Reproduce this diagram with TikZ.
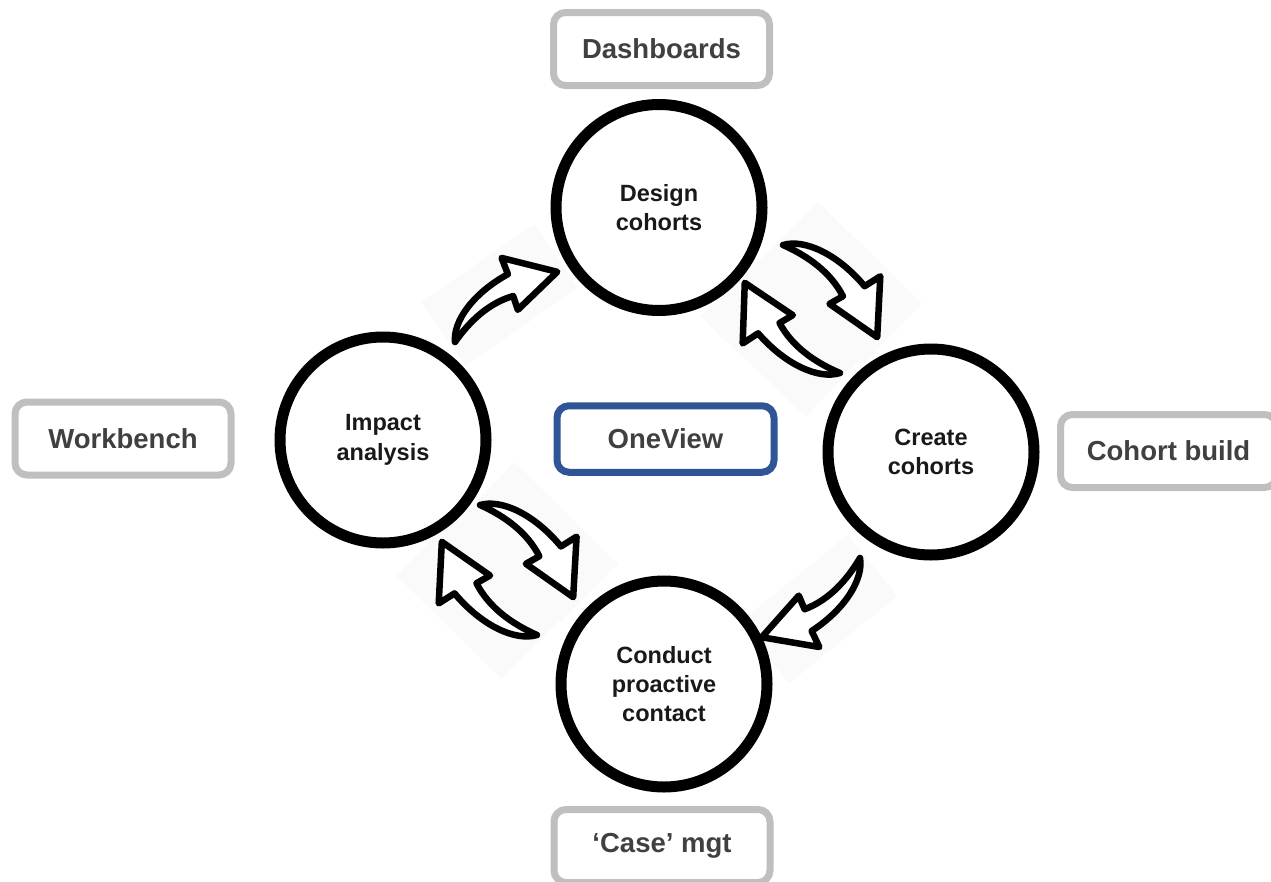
\documentclass[tikz,border=0pt]{standalone}
\usepackage{fontspec}
\setmainfont{Liberation Sans}
\definecolor{boxgray}{HTML}{BFBFBF}
\definecolor{txtgray}{HTML}{404040}
\definecolor{ovblue}{HTML}{2F5597}
\definecolor{bgfaint}{HTML}{FAFAFA}
\tikzset{
  stage/.style={circle, draw=black, line width=11pt, fill=white, minimum size=206pt, inner sep=0pt,
    align=center, text=black!90, font=\fontsize{23.5}{29.4}\selectfont\bfseries},
  toolbox/.style={rounded corners=12pt, draw=boxgray, line width=7pt, fill=white,
    minimum width=216pt, minimum height=73pt, inner sep=0pt, text=txtgray,
    font=\fontsize{27.5}{33}\selectfont\bfseries},
  centerbox/.style={toolbox, draw=ovblue, minimum width=217pt, minimum height=66.5pt},
  arrowline/.style={draw=black, fill=white, line width=6.5pt, line join=round},
  arrowbg/.style={fill=bgfaint}
}
\newcommand{\cyclebg}[4]{%
  \begin{scope}[shift={(#1,-#2)}, rotate=#3, scale=#4]
    \fill[arrowbg] (-5,-25) rectangle (132,52);
  \end{scope}}
\newcommand{\cyclearrow}[4]{%
  \begin{scope}[shift={(#1,-#2)}, rotate=#3, scale=#4]
    \draw[arrowline] (0,0) .. controls (10,18) and (42,30) .. (82,26) -- (86,43) -- (124,0)
      -- (70,-9) -- (74,5) .. controls (50,13) and (24,9) .. cycle;
  \end{scope}}
\begin{document}
\begin{tikzpicture}[x=1pt,y=1pt]
\useasboundingbox (0,0) rectangle (1271,-881);
\fill[white] (0,0) rectangle (1271,-881);
% faint backgrounds of arrows
\cyclebg{455}{342}{34.46}{1.0}
\cyclebg{783}{245}{-44.38}{1.063}
\cyclebg{840}{373}{136.55}{1.058}
\cyclebg{480}{505}{-44.69}{1.057}
\cyclebg{537}{635}{135.61}{1.074}
\cyclebg{860}{558}{218.88}{1.018}
% stages
\node[stage] (design)  at (659,-207.5) {Design\\cohorts};
\node[stage] (impact)  at (383,-440)   {Impact\\analysis};
\node[stage] (create)  at (931,-452)   {Create\\cohorts};
\node[stage] (conduct) at (664,-684)   {Conduct\\proactive\\contact};
% boxes
\node[toolbox] (dash)  at (661.5,-49)  {Dashboards};
\node[toolbox] (work)  at (123,-438.5) {Workbench};
\node[toolbox] (build) at (1168.5,-451) {Cohort build};
\node[toolbox] (case)  at (662,-846)   {‘Case’ mgt};
\node[centerbox] (ov)  at (665.5,-439) {OneView};
% arrows
\cyclearrow{455}{342}{34.46}{1.0}
\cyclearrow{783}{245}{-44.38}{1.063}
\cyclearrow{840}{373}{136.55}{1.058}
\cyclearrow{480}{505}{-44.69}{1.057}
\cyclearrow{537}{635}{135.61}{1.074}
\cyclearrow{860}{558}{218.88}{1.018}
\end{tikzpicture}
\end{document}
